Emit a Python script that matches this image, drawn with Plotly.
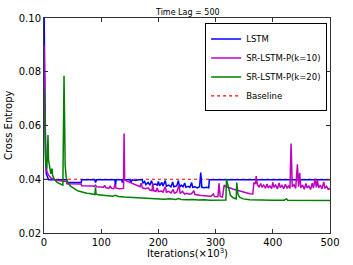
import plotly.graph_objects as go

# ---------------- data ----------------
lstm_x = [0, 1, 2, 3, 4, 6, 8, 40, 41, 65, 66, 89, 90, 92, 124, 125, 126, 136, 137, 139,
          150, 152, 154, 160, 165, 172, 173, 176, 178, 182, 185, 188, 190, 195, 198, 200,
          202, 206, 208, 212, 214, 218, 222, 225, 227, 232, 235, 237, 240, 243, 246, 248,
          252, 255, 258, 260, 264, 268, 272, 274, 276, 280, 284, 288, 289, 350, 420, 500]
lstm_y = [0.105, 0.075, 0.055, 0.046, 0.042, 0.0405, 0.0398, 0.0398, 0.0388, 0.0388, 0.0398,
          0.0398, 0.0388, 0.0398, 0.0398, 0.0375, 0.0398, 0.0398, 0.0388, 0.0398,
          0.0398, 0.0388, 0.0398, 0.0395, 0.0398, 0.0398, 0.0385, 0.0392, 0.0380, 0.0388,
          0.0378, 0.0395, 0.0380, 0.0382, 0.0378, 0.0392, 0.0376, 0.0388, 0.0375, 0.0395,
          0.0374, 0.0378, 0.0372, 0.0390, 0.0372, 0.0375, 0.0395, 0.0370, 0.0378, 0.0372,
          0.0386, 0.0370, 0.0374, 0.0370, 0.0388, 0.0370, 0.0372, 0.0368, 0.0372, 0.0425,
          0.0370, 0.0368, 0.0370, 0.0368, 0.0398, 0.0398, 0.0398, 0.0398]

k10_x = [0, 1, 2, 3, 5, 8, 12, 16, 20, 25, 30, 35, 39, 40, 50, 60, 65, 66, 75, 85, 88, 90,
         92, 100, 104, 106, 108, 114, 116, 118, 122, 124, 126, 132, 136, 139, 140, 141, 145,
         150, 155, 160, 165, 168, 170, 172, 178, 182, 185, 189, 190, 192, 196, 198, 200, 205,
         208, 212, 214, 218, 222, 226, 228, 232, 236, 238, 242, 246, 250, 254, 258, 262, 264,
         268, 275, 280, 286, 292, 296, 298, 304, 306, 308, 312, 315, 318, 322, 326, 330, 336,
         342, 348, 354, 360, 365, 367, 370, 371, 373, 376, 379, 381, 384, 387, 390, 392, 395,
         398, 400, 402, 405, 408, 411, 413, 416, 419, 422, 425, 428, 430, 432, 434, 437, 440,
         443, 445, 447, 449, 452, 455, 458, 460, 463, 466, 469, 471, 474, 476, 478, 480, 483,
         486, 489, 491, 494, 497, 500]
k10_y = [0.090, 0.070, 0.055, 0.047, 0.043, 0.0415, 0.0405, 0.0400, 0.0397, 0.0395, 0.0393,
         0.0392, 0.0392, 0.0383, 0.0382, 0.0382, 0.0382, 0.0376, 0.0376, 0.0375, 0.0373,
         0.0378, 0.0372, 0.0371, 0.0370, 0.0377, 0.0368, 0.0367, 0.0375, 0.0366, 0.0365,
         0.0382, 0.0367, 0.0365, 0.0364, 0.0366, 0.0570, 0.0398, 0.0393, 0.0388, 0.0383,
         0.0378, 0.0374, 0.0372, 0.0385, 0.0368, 0.0365, 0.0368, 0.0360, 0.0358, 0.0385,
         0.0357, 0.0355, 0.0368, 0.0354, 0.0356, 0.0352, 0.0372, 0.0352, 0.0355, 0.0349,
         0.0362, 0.0348, 0.0352, 0.0378, 0.0347, 0.0355, 0.0345, 0.0348, 0.0344, 0.0346,
         0.0357, 0.0343, 0.0341, 0.0340, 0.0339, 0.0338, 0.0337, 0.0345, 0.0336, 0.0335,
         0.0385, 0.0336, 0.0334, 0.0378, 0.0372, 0.0370, 0.0368, 0.0364, 0.0360, 0.0356,
         0.0353, 0.0349, 0.0346, 0.0345, 0.0388, 0.0383, 0.0412, 0.0380, 0.0372, 0.0384,
         0.0370, 0.0378, 0.0367, 0.0382, 0.0368, 0.0375, 0.0365, 0.0388, 0.0370, 0.0378,
         0.0364, 0.0386, 0.0369, 0.0377, 0.0365, 0.0381, 0.0368, 0.0375, 0.0366, 0.0533,
         0.0372, 0.0380, 0.0366, 0.0456, 0.0372, 0.0424, 0.0368, 0.0378, 0.0363, 0.0384,
         0.0368, 0.0375, 0.0362, 0.0385, 0.0367, 0.0402, 0.0370, 0.0398, 0.0368, 0.0378,
         0.0364, 0.0390, 0.0366, 0.0374, 0.0362, 0.0366]

k20_x = [0, 1, 2, 3, 5, 7, 8, 10, 12, 14, 15, 18, 22, 26, 30, 33, 35, 36, 37, 39, 42, 46,
         50, 55, 60, 65, 70, 75, 80, 85, 89, 90, 91, 95, 100, 110, 120, 125, 130, 140, 150,
         160, 170, 180, 190, 200, 210, 220, 230, 235, 240, 250, 260, 270, 280, 290, 300, 310,
         318, 319, 321, 323, 326, 330, 334, 336, 337, 339, 342, 348, 360, 380, 400, 420, 424,
         426, 450, 475, 500]
k20_y = [0.0737, 0.060, 0.050, 0.046, 0.044, 0.0565, 0.047, 0.0435, 0.042, 0.044, 0.0415,
         0.0400, 0.0390, 0.0385, 0.0380, 0.0378, 0.0785, 0.060, 0.045, 0.0405, 0.0385, 0.0375,
         0.0368, 0.0362, 0.0356, 0.0353, 0.0351, 0.0348, 0.0347, 0.0345, 0.0343, 0.0370,
         0.0345, 0.0342, 0.0341, 0.0338, 0.0337, 0.0340, 0.0336, 0.0334, 0.0333, 0.0331,
         0.0331, 0.0328, 0.0329, 0.0327, 0.0326, 0.0327, 0.0325, 0.0328, 0.0325, 0.0324,
         0.0325, 0.0323, 0.0324, 0.0322, 0.0323, 0.0322, 0.0323, 0.0400, 0.0385, 0.0360,
         0.0340, 0.0332, 0.0328, 0.0327, 0.0388, 0.0345, 0.0333, 0.0327, 0.0324, 0.0322,
         0.0322, 0.0322, 0.0327, 0.0322, 0.0321, 0.0322, 0.0321]

baseline_x = [0, 500]
baseline_y = [0.0400, 0.0400]

x_ticks = [0, 100, 200, 300, 400, 500]
y_ticks = [0.02, 0.04, 0.06, 0.08, 0.10]

# ---------------- figure ----------------
FONT = "DejaVu Sans"
fig = go.Figure()
fig.add_trace(go.Scatter(x=baseline_x, y=baseline_y, mode="lines", name="Baseline",
                         line=dict(color="#ff0000", width=1.2, dash="dot"), legendrank=4))
fig.add_trace(go.Scatter(x=lstm_x, y=lstm_y, mode="lines", name="LSTM",
                         line=dict(color="#0000ff", width=1.5), legendrank=1))
fig.add_trace(go.Scatter(x=k10_x, y=k10_y, mode="lines", name="SR-LSTM-P(k=10)",
                         line=dict(color="#bf00bf", width=1.5), legendrank=2))
fig.add_trace(go.Scatter(x=k20_x, y=k20_y, mode="lines", name="SR-LSTM-P(k=20)",
                         line=dict(color="#008000", width=1.5), legendrank=3))

axis_common = dict(showgrid=False, zeroline=False, showline=True, linecolor="#333",
                   linewidth=1, mirror="ticks", ticks="inside", ticklen=4, tickcolor="#333",
                   tickfont=dict(family=FONT, size=10, color="black"))
fig.update_xaxes(range=[0, 500], tickvals=x_ticks, ticktext=[str(v) for v in x_ticks],
                 **axis_common)
fig.update_yaxes(range=[0.02, 0.10], tickvals=y_ticks,
                 ticktext=[f"{v:.2f}" for v in y_ticks], **axis_common)

fig.update_layout(
    width=353, height=265,
    margin=dict(l=44, r=23, t=14, b=32),
    paper_bgcolor="white", plot_bgcolor="white",
    showlegend=True,
    legend=dict(x=0.99, y=0.975, xanchor="right", yanchor="top",
                bgcolor="white", bordercolor="black", borderwidth=1,
                font=dict(family=FONT, size=8.5, color="black"),
                itemwidth=30, tracegroupgap=0),
    annotations=[
        dict(text="Time Lag = 500", xref="paper", yref="paper", x=0.5, y=1.0,
             xanchor="center", yanchor="bottom", showarrow=False, yshift=-1,
             font=dict(family=FONT, size=8, color="black")),
        dict(text="Iterations(×10<sup>3</sup>)", xref="paper", yref="paper", x=0.5, y=0,
             xanchor="center", yanchor="top", showarrow=False, yshift=-12,
             font=dict(family=FONT, size=10, color="black")),
        dict(text="Cross Entropy", xref="paper", yref="paper", x=0, y=0.5,
             xanchor="right", yanchor="middle", showarrow=False, xshift=-28,
             textangle=-90, font=dict(family=FONT, size=10, color="black")),
    ],
)

fig.write_html("out.html", config={"displayModeBar": False},
               post_script="document.body.style.margin='0';document.body.style.padding='0';")
